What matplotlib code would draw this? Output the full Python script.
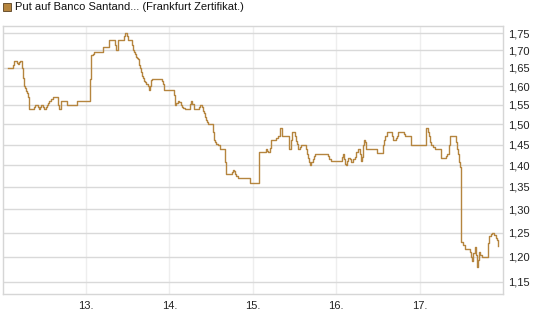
import matplotlib
matplotlib.use("Agg")
import matplotlib.pyplot as plt
from matplotlib.ticker import FixedLocator, FixedFormatter, NullLocator
from matplotlib.patches import Rectangle

plt.rcParams['font.family'] = ['Liberation Sans', 'DejaVu Sans']

title = "Put auf Banco Santand... (Frankfurt Zertifikat.)"

days = [12.068, 12.119, 12.140, 12.167, 12.179, 12.191, 12.200, 12.212, 12.227, 12.232,
        12.239, 12.251, 12.263, 12.275, 12.287, 12.299, 12.311, 12.320, 12.371, 12.380,
        12.392, 12.407, 12.419, 12.431, 12.448, 12.464, 12.479, 12.491, 12.512, 12.520,
        12.532, 12.548, 12.560, 12.580, 12.599, 12.659, 12.668, 12.671, 12.692, 12.700,
        12.767, 12.776, 12.880, 12.887, 13.048, 13.052, 13.060, 13.079, 13.100, 13.199,
        13.208, 13.268, 13.280, 13.340, 13.348, 13.360, 13.376, 13.388, 13.451, 13.460,
        13.468, 13.487, 13.492, 13.499, 13.540, 13.552, 13.559, 13.571, 13.583, 13.595,
        13.607, 13.619, 13.631, 13.643, 13.655, 13.667, 13.679, 13.691, 13.708, 13.724,
        13.739, 13.751, 13.763, 13.780, 13.792, 13.900, 13.912, 13.924, 13.931, 14.051,
        14.060, 14.072, 14.084, 14.099, 14.116, 14.132, 14.147, 14.164, 14.180, 14.231,
        14.243, 14.255, 14.267, 14.288, 14.339, 14.351, 14.363, 14.372, 14.384, 14.396,
        14.408, 14.420, 14.432, 14.447, 14.464, 14.516, 14.524, 14.531, 14.543, 14.560,
        14.579, 14.600, 14.660, 14.668, 14.680, 14.732, 14.744, 14.756, 14.768, 14.780,
        14.800, 14.819, 14.951, 14.960, 15.059, 15.068, 15.076, 15.140, 15.152, 15.167,
        15.179, 15.200, 15.212, 15.272, 15.280, 15.299, 15.320, 15.340, 15.352, 15.419,
        15.428, 15.436, 15.452, 15.460, 15.467, 15.488, 15.500, 15.512, 15.524, 15.536,
        15.548, 15.560, 15.572, 15.628, 15.640, 15.652, 15.664, 15.676, 15.688, 15.700,
        15.716, 15.731, 15.748, 15.892, 15.904, 15.916, 15.932, 16.060, 16.072, 16.084,
        16.096, 16.108, 16.120, 16.132, 16.144, 16.160, 16.180, 16.199, 16.220, 16.240,
        16.259, 16.280, 16.292, 16.307, 16.319, 16.331, 16.340, 16.352, 16.480, 16.492,
        16.552, 16.559, 16.571, 16.583, 16.600, 16.607, 16.660, 16.672, 16.679, 16.700,
        16.712, 16.727, 16.744, 16.799, 16.811, 16.823, 16.880, 16.892, 17.060, 17.072,
        17.087, 17.099, 17.111, 17.128, 17.140, 17.159, 17.180, 17.240, 17.252, 17.312,
        17.320, 17.332, 17.351, 17.360, 17.420, 17.432, 17.447, 17.459, 17.471, 17.488,
        17.492, 17.500, 17.516, 17.540, 17.600, 17.612, 17.624, 17.639, 17.660, 17.672,
        17.687, 17.699, 17.711, 17.728, 17.752, 17.807, 17.819, 17.831, 17.860, 17.872,
        17.888, 17.912, 17.928, 17.940]

prices = [1.650, 1.657, 1.670, 1.664, 1.660, 1.660, 1.666, 1.670, 1.670, 1.650,
          1.622, 1.600, 1.594, 1.588, 1.581, 1.572, 1.550, 1.539, 1.539, 1.546,
          1.550, 1.550, 1.544, 1.539, 1.545, 1.550, 1.545, 1.539, 1.539, 1.545,
          1.550, 1.555, 1.560, 1.566, 1.572, 1.572, 1.550, 1.539, 1.539, 1.560,
          1.560, 1.550, 1.550, 1.560, 1.560, 1.620, 1.685, 1.688, 1.695, 1.700,
          1.710, 1.710, 1.730, 1.730, 1.715, 1.700, 1.700, 1.730, 1.730, 1.740,
          1.750, 1.750, 1.740, 1.730, 1.730, 1.715, 1.700, 1.694, 1.689, 1.682,
          1.677, 1.675, 1.658, 1.650, 1.640, 1.627, 1.622, 1.615, 1.611, 1.605,
          1.600, 1.590, 1.600, 1.617, 1.620, 1.620, 1.613, 1.605, 1.590, 1.590,
          1.577, 1.550, 1.555, 1.560, 1.557, 1.550, 1.546, 1.541, 1.540, 1.540,
          1.553, 1.560, 1.553, 1.540, 1.540, 1.545, 1.550, 1.550, 1.545, 1.535,
          1.530, 1.518, 1.510, 1.506, 1.500, 1.500, 1.480, 1.460, 1.457, 1.452,
          1.450, 1.440, 1.440, 1.408, 1.380, 1.380, 1.385, 1.390, 1.387, 1.380,
          1.375, 1.370, 1.370, 1.360, 1.360, 1.397, 1.432, 1.432, 1.440, 1.434,
          1.432, 1.442, 1.460, 1.460, 1.465, 1.470, 1.490, 1.490, 1.470, 1.470,
          1.457, 1.440, 1.440, 1.460, 1.480, 1.480, 1.470, 1.459, 1.452, 1.440,
          1.440, 1.445, 1.450, 1.450, 1.440, 1.428, 1.418, 1.408, 1.400, 1.408,
          1.416, 1.422, 1.428, 1.428, 1.422, 1.416, 1.410, 1.410, 1.420, 1.428,
          1.416, 1.404, 1.400, 1.410, 1.418, 1.414, 1.408, 1.414, 1.420, 1.433,
          1.440, 1.428, 1.410, 1.420, 1.448, 1.460, 1.457, 1.440, 1.440, 1.430,
          1.430, 1.448, 1.460, 1.470, 1.470, 1.480, 1.480, 1.470, 1.460, 1.460,
          1.465, 1.470, 1.480, 1.480, 1.476, 1.470, 1.470, 1.450, 1.450, 1.490,
          1.490, 1.480, 1.470, 1.457, 1.450, 1.443, 1.440, 1.440, 1.418, 1.418,
          1.423, 1.428, 1.448, 1.470, 1.470, 1.457, 1.440, 1.428, 1.408, 1.396,
          1.315, 1.230, 1.225, 1.215, 1.210, 1.199, 1.191, 1.207, 1.219, 1.204,
          1.179, 1.194, 1.209, 1.204, 1.200, 1.200, 1.228, 1.242, 1.247, 1.250,
          1.245, 1.238, 1.235, 1.221]

y_ticks = [1.15, 1.20, 1.25, 1.30, 1.35, 1.40, 1.45, 1.50, 1.55, 1.60, 1.65, 1.70, 1.75]
y_labels = ["1,15", "1,20", "1,25", "1,30", "1,35", "1,40", "1,45", "1,50", "1,55",
            "1,60", "1,65", "1,70", "1,75"]
x_ticks = [13, 14, 15, 16, 17]
x_labels = ["13.", "14.", "15.", "16.", "17."]

line_color = "#B5853F"

fig = plt.figure(figsize=(5.45, 3.27), dpi=100)
ax = fig.add_axes([0.005, 0.101, 0.918, 0.8195])

ax.plot(days, prices, color=line_color, lw=1.0, drawstyle="steps-post", zorder=3)

ax.set_yscale("log")
ax.set_ylim(1.127, 1.7708)
ax.set_xlim(12.0, 18.0)

ax.yaxis.set_major_locator(FixedLocator(y_ticks))
ax.yaxis.set_major_formatter(FixedFormatter(y_labels))
ax.yaxis.set_minor_locator(NullLocator())
ax.xaxis.set_major_locator(FixedLocator(x_ticks))
ax.xaxis.set_major_formatter(FixedFormatter(x_labels))
ax.xaxis.set_minor_locator(NullLocator())

ax.yaxis.tick_right()
ax.tick_params(axis="y", length=0, pad=4, labelsize=8, labelcolor="#222222")
ax.tick_params(axis="x", length=0, pad=5, labelsize=8, labelcolor="#222222")

ax.grid(axis="y", color="#d9d9d9", lw=1.0, zorder=0)
ax.grid(axis="x", color="#eeeeee", lw=1.0, zorder=0)

for s in ax.spines.values():
    s.set_color("#d6d6d6")
    s.set_linewidth(1.0)

fig.patches.append(Rectangle((3 / 545, 1 - 11 / 327), 8 / 545, 8 / 327,
                             transform=fig.transFigure, facecolor=line_color,
                             edgecolor="#5a4020", lw=0.6))
fig.text(15 / 545, 1 - 7 / 327, title, fontsize=8, va="center", ha="left",
         color="#111111")

fig.savefig("out.png", dpi=100)
